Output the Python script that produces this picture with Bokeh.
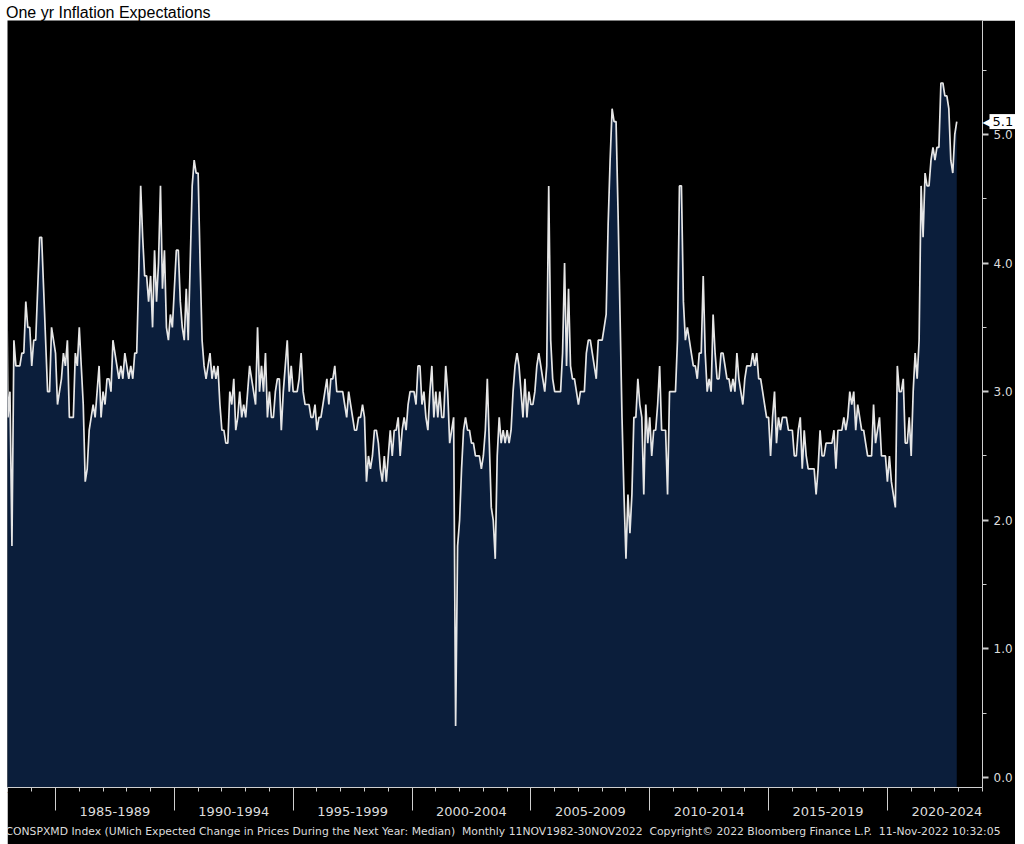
from bokeh.plotting import figure
from bokeh.models import (FixedTicker, LinearAxis, Range1d, Title, Div, Label,
                          PrintfTickFormatter)
from bokeh.layouts import column
from bokeh.embed import file_html
from bokeh.resources import INLINE

# ---------------- data (monthly, Nov 1982 .. Nov 2022, median 1-yr expected inflation, %)
title_text = "One yr Inflation Expectations"
footer_text = ("CONSPXMD Index (UMich Expected Change in Prices During the Next Year: Median)\u00a0\u00a0"
               "Monthly 11NOV1982-30NOV2022\u00a0\u00a0Copyright\u00a9 2022 Bloomberg Finance L.P.\u00a0\u00a0"
               "11-Nov-2022 10:32:05")
start_year = 1982
start_month = 11

exp_nov1982_oct1989 = [
    4.5, 2.8, 3.0, 1.8, 3.4, 3.2, 3.2, 3.2, 3.3, 3.3, 3.7, 3.5,
    3.5, 3.2, 3.4, 3.4, 3.8, 4.2, 4.2, 3.8, 3.4, 3.0, 3.0, 3.5,
    3.4, 3.3, 2.9, 3.0, 3.1, 3.3, 3.2, 3.4, 2.8, 2.8, 2.8, 3.3,
    3.2, 3.5, 3.2, 2.9, 2.3, 2.4, 2.7, 2.8, 2.9, 2.8, 3.0, 3.2,
    2.8, 3.0, 2.9, 3.1, 3.1, 3.0, 3.4, 3.3, 3.2, 3.1, 3.2, 3.1,
    3.3, 3.2, 3.1, 3.2, 3.1, 3.3, 3.3, 3.9, 4.6, 4.2, 3.9, 3.9,
    3.7, 3.9, 3.5, 4.1, 3.7, 4.0, 4.6, 3.8, 4.1, 3.5, 3.4, 3.6,
]
exp_nov1989_oct1996 = [
    3.5, 3.8, 4.1, 4.1, 3.7, 3.5, 3.4, 3.8, 3.4, 4.0, 4.6, 4.8,
    4.7, 4.7, 4.0, 3.4, 3.2, 3.1, 3.2, 3.3, 3.1, 3.2, 3.1, 3.2,
    2.9, 2.7, 2.7, 2.6, 2.6, 3.0, 2.9, 3.1, 2.7, 2.8, 3.0, 2.8,
    2.9, 2.8, 3.0, 3.2, 3.1, 3.0, 2.9, 3.5, 3.0, 3.2, 3.0, 3.3,
    2.8, 3.0, 2.8, 2.8, 3.0, 3.1, 3.1, 2.7, 3.0, 3.2, 3.4, 3.0,
    3.2, 3.0, 3.0, 3.0, 3.1, 3.3, 3.0, 2.9, 2.9, 2.9, 2.8, 2.8,
    2.9, 2.7, 2.8, 2.8, 2.9, 3.0, 3.1, 2.9, 3.1, 3.1, 3.2, 3.0,
]
exp_nov1996_oct2003 = [
    3.0, 3.0, 3.0, 2.9, 2.8, 3.0, 2.9, 2.8, 2.7, 2.7, 2.8, 2.8,
    2.9, 2.8, 2.3, 2.5, 2.4, 2.5, 2.7, 2.7, 2.6, 2.4, 2.3, 2.5,
    2.3, 2.5, 2.7, 2.5, 2.7, 2.7, 2.8, 2.5, 2.7, 2.8, 2.7, 2.9,
    3.0, 3.0, 3.0, 2.9, 3.2, 3.2, 2.9, 3.0, 2.8, 2.7, 3.0, 3.2,
    2.8, 3.0, 2.8, 3.0, 2.8, 2.8, 3.2, 3.0, 2.6, 2.7, 2.8, 0.4,
    1.8, 2.0, 2.4, 2.7, 2.8, 2.7, 2.7, 2.6, 2.6, 2.5, 2.5, 2.5,
    2.4, 2.5, 2.7, 3.1, 2.6, 2.1, 2.0, 1.7, 2.5, 2.8, 2.6, 2.7,
]
exp_nov2003_oct2010 = [
    2.6, 2.7, 2.6, 2.7, 3.0, 3.2, 3.3, 3.2, 3.0, 2.8, 3.1, 2.8,
    3.0, 2.9, 2.9, 3.0, 3.2, 3.3, 3.2, 3.1, 3.0, 3.2, 4.6, 3.4,
    3.1, 3.0, 3.0, 3.0, 3.0, 3.3, 4.0, 3.2, 3.8, 3.2, 3.1, 3.1,
    3.0, 2.9, 3.0, 3.0, 3.0, 3.3, 3.4, 3.4, 3.3, 3.2, 3.1, 3.4,
    3.4, 3.4, 3.5, 3.6, 4.3, 4.8, 5.2, 5.1, 5.1, 4.4, 3.6, 2.8,
    2.2, 1.7, 2.2, 1.9, 2.2, 2.8, 2.8, 3.1, 2.9, 2.8, 2.2, 2.9,
    2.6, 2.8, 2.5, 2.7, 2.7, 2.9, 3.2, 2.7, 2.7, 2.7, 2.2, 3.0,
]
exp_nov2010_oct2017 = [
    3.0, 3.0, 3.0, 3.4, 4.6, 4.6, 3.7, 3.4, 3.5, 3.4, 3.3, 3.2,
    3.2, 3.1, 3.3, 3.3, 3.9, 3.3, 3.0, 3.1, 3.0, 3.6, 3.3, 3.1,
    3.1, 3.3, 3.3, 3.2, 3.1, 3.1, 3.0, 3.1, 3.0, 3.3, 3.1, 3.0,
    2.9, 3.1, 3.2, 3.2, 3.2, 3.3, 3.2, 3.3, 3.1, 3.1, 3.0, 2.9,
    2.8, 2.8, 2.5, 2.8, 3.0, 2.6, 2.8, 2.7, 2.8, 2.8, 2.8, 2.7,
    2.7, 2.7, 2.5, 2.5, 2.7, 2.8, 2.4, 2.7, 2.5, 2.4, 2.4, 2.4,
    2.4, 2.2, 2.4, 2.7, 2.5, 2.5, 2.6, 2.6, 2.6, 2.6, 2.7, 2.4,
]
exp_nov2017_nov2022 = [
    2.7, 2.7, 2.7, 2.8, 2.7, 2.8, 3.0, 2.9, 3.0, 2.7, 2.9, 2.8,
    2.7, 2.7, 2.6, 2.5, 2.5, 2.5, 2.9, 2.6, 2.7, 2.8, 2.5, 2.5,
    2.5, 2.3, 2.5, 2.3, 2.2, 2.1, 3.2, 3.0, 3.0, 3.1, 2.6, 2.6,
    2.8, 2.5, 3.0, 3.3, 3.1, 3.4, 4.6, 4.2, 4.7, 4.6, 4.6, 4.8,
    4.9, 4.8, 4.9, 4.9, 5.4, 5.4, 5.3, 5.3, 5.2, 4.8, 4.7, 5.0,
    5.1,
]

period_starts = [1985, 1990, 1995, 2000, 2005, 2010, 2015, 2020]
period_labels = ["1985-1989", "1990-1994", "1995-1999", "2000-2004",
                 "2005-2009", "2010-2014", "2015-2019", "2020-2024"]
y_ticks = [0, 1, 2, 3, 4, 5]

values = (exp_nov1982_oct1989 + exp_nov1989_oct1996 + exp_nov1996_oct2003 +
          exp_nov2003_oct2010 + exp_nov2010_oct2017 + exp_nov2017_nov2022)
# month-end dates as decimal years
t = [start_year + (start_month + i) / 12 for i in range(len(values))]

# ---------------- figure
p = figure(frame_width=975, frame_height=767,
           x_range=Range1d(1982.98, 2024.0), y_range=Range1d(-0.078, 5.886),
           output_backend="svg", toolbar_location=None, y_axis_location="right",
           background_fill_color="black", border_fill_color="black",
           min_border_left=0, min_border_top=0, min_border_right=0, min_border_bottom=0)
p.margin = (0, 0, 0, 7)
p.outline_line_color = None
p.xgrid.visible = False
p.ygrid.visible = False

p.varea(x=t, y1=[-1.0] * len(t), y2=values, fill_color="#0b1e3b")
p.line(t, values, line_color="#e6e6e6", line_width=1.7)

axis_col = "#cfcfcf"
label_col = "#dcdcdc"

# bottom axis A: axis line + yearly ticks
xa = p.xaxis[0]
xa.ticker = FixedTicker(ticks=list(range(1983, 2025)), minor_ticks=[])
xa.axis_line_color = axis_col
xa.major_tick_line_color = axis_col
xa.major_tick_in = 0
xa.major_tick_out = 4
xa.major_label_text_font_size = "1px"
xa.major_label_text_color = "black"
xa.major_label_standoff = 0
xa.minor_tick_line_color = None

# bottom axis B: period labels + 5-year separators
mids = [s + 2.5 for s in period_starts]
xb = LinearAxis(ticker=FixedTicker(ticks=mids, minor_ticks=period_starts),
                major_label_overrides={m: lab for m, lab in zip(mids, period_labels)},
                axis_line_color=None, major_tick_line_color=None,
                major_tick_in=0, major_tick_out=0,
                minor_tick_line_color=axis_col, minor_tick_in=6, minor_tick_out=15,
                major_label_standoff=-4,
                major_label_text_font="DejaVu Sans", major_label_text_font_size="13px",
                major_label_text_color=label_col)
p.add_layout(xb, "below")

# right axis
ya = p.yaxis[0]
ya.ticker = FixedTicker(ticks=y_ticks, minor_ticks=[v + 0.5 for v in y_ticks])
ya.formatter = PrintfTickFormatter(format="%.1f")
ya.axis_line_color = axis_col
ya.major_tick_line_color = axis_col
ya.major_tick_line_width = 2
ya.major_tick_in = 0
ya.major_tick_out = 6
ya.minor_tick_line_color = axis_col
ya.minor_tick_in = 0
ya.minor_tick_out = 4
ya.major_label_standoff = 5
ya.major_label_text_font = "DejaVu Sans"
ya.major_label_text_font_size = "12px"
ya.major_label_text_color = label_col

# footer
p.add_layout(Title(text=footer_text, align="left", text_font="DejaVu Sans",
                   text_font_size="10.8px", text_font_style="normal",
                   text_color=label_col, standoff=8, offset=-2), "below")

# last value tag (placed in a side panel so that it is not clipped to the frame)
last_v = values[-1]
x_end = p.x_range.end
p.add_layout(Label(x=x_end, y=last_v, x_offset=0, text="\u25c0",
                   text_baseline="middle", text_align="left",
                   text_font="DejaVu Sans", text_font_size="12px",
                   text_color="white"), "below")
p.add_layout(Label(x=x_end, y=last_v, x_offset=7, text=f"{last_v:.1f}",
                   text_baseline="middle", text_align="left",
                   text_font="DejaVu Sans", text_font_size="13px", text_color="black",
                   background_fill_color="white", background_fill_alpha=1.0,
                   padding=3), "below")

header = Div(text=title_text, width=1000, height=10, margin=(5, 0, 5, 6),
             styles={"font-family": "'Liberation Sans', Arial, sans-serif",
                     "font-size": "16px", "line-height": "15px", "color": "black",
                     "white-space": "nowrap"})

layout = column(header, p, spacing=0)
open("out.html", "w").write(file_html(layout, INLINE, title="One yr Inflation Expectations"))
